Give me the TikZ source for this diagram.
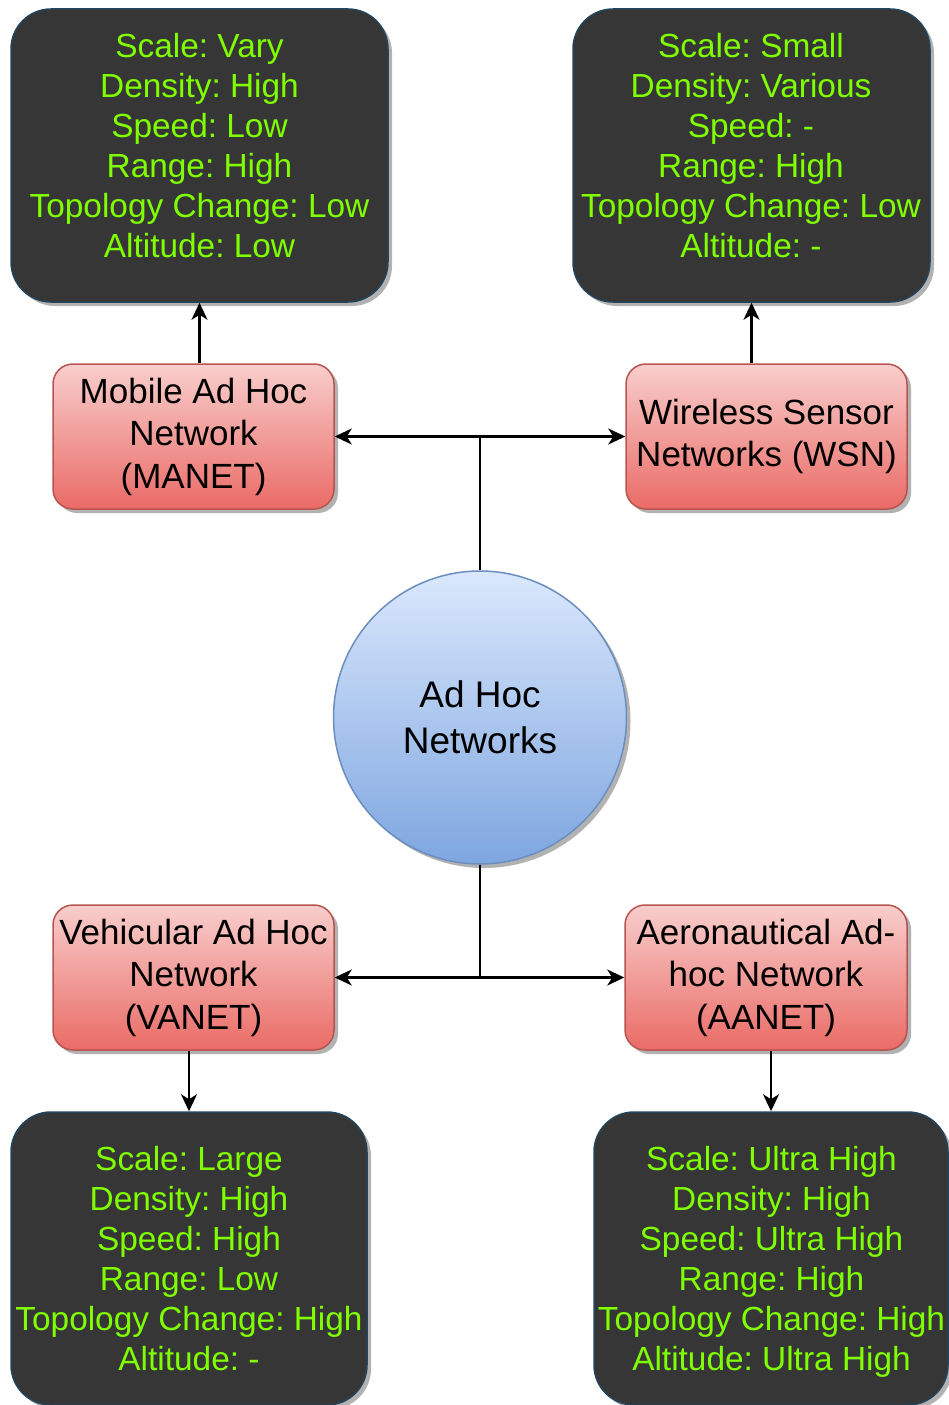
\documentclass[tikz,border=0pt]{standalone}
\usepackage{fontspec}
\setmainfont{Liberation Sans}
\usetikzlibrary{shadows,arrows.meta}
\frenchspacing

\definecolor{darkfill}{HTML}{363636}
\definecolor{darkedge}{HTML}{23445D}
\definecolor{infogreen}{HTML}{80FF00}
\definecolor{redtop}{HTML}{F8CECC}
\definecolor{redbot}{HTML}{EA6B66}
\definecolor{rededge}{HTML}{B85450}
\definecolor{bluetop}{HTML}{DAE8FC}
\definecolor{bluebot}{HTML}{7EA6E0}
\definecolor{blueedge}{HTML}{6C8EBF}

\begin{document}
\begin{tikzpicture}[x=1pt,y=-1pt,
  softshadow/.style={drop shadow={shadow xshift=4pt,shadow yshift=-4pt,fill=black,opacity=0.3}},
  darkbox/.style={rectangle,rounded corners=40pt,draw=darkedge,line width=1.5pt,
    fill=darkfill,inner sep=0pt,minimum height=293pt,softshadow},
  infotext/.style={text=infogreen,font=\fontsize{33.4}{40}\selectfont,align=center,inner sep=0pt},
  netbox/.style={rectangle,rounded corners=20pt,draw=rededge,line width=1.5pt,
    top color=redtop,bottom color=redbot,minimum width=281pt,minimum height=145pt,
    inner sep=0pt,align=center,font=\fontsize{35}{42.5}\selectfont,softshadow},
  hub/.style={circle,draw=blueedge,line width=1.5pt,top color=bluetop,bottom color=bluebot,
    minimum size=293pt,inner sep=0pt,align=center,font=\fontsize{37}{46}\selectfont,softshadow},
  link/.style={line width=2.4pt,-{Stealth[length=17pt,width=16pt,inset=5pt]}}
]
\useasboundingbox (0,0) rectangle (948,1405);

% property boxes
\node[darkbox,minimum width=377pt] (tl) at (199.5,155.5) {};
\node[darkbox,minimum width=357pt] (tr) at (751.5,155.5) {};
\node[darkbox,minimum width=356pt] (bl) at (189,1258.5) {};
\node[darkbox,minimum width=354pt] (br) at (771,1258.5) {};

\node[infotext] (tltext) at (199.5,146) {Scale: Vary\\Density: High\\Speed: Low\\Range: High\\Topology Change: Low\\Altitude: Low};
\node[infotext] (trtext) at (751,146) {Scale: Small\\Density: Various\\Speed: -\\Range: High\\Topology Change: Low\\Altitude: -};
\node[infotext] (bltext) at (189,1259) {Scale: Large\\Density: High\\Speed: High\\Range: Low\\Topology Change: High\\Altitude: -};
\node[infotext] (brtext) at (771.5,1262) {Scale: Ultra High\\Density: High\\Speed: Ultra High\\Range: High\\Topology Change: High\\Altitude: Ultra High};

% network types
\node[netbox] (manet) at (193.5,436.5) {Mobile Ad Hoc\\Network\\(MANET)};
\node[netbox] (wsn) at (766.5,436.5) {Wireless Sensor\\Networks (WSN)};
\node[netbox] (vanet) at (193.5,977.5) {Vehicular Ad Hoc\\Network\\(VANET)};
\node[netbox,minimum width=282pt] (aanet) at (766,977.5) {Aeronautical Ad-\\hoc Network\\(AANET)};

% central node
\node[hub] (hub) at (480,717.5) {Ad Hoc\\Networks};

% connectors
\draw[link] (hub.north) |- (manet.east);
\draw[link] (hub.north) |- (wsn.west);
\draw[link] (hub.south) |- (vanet.east);
\draw[link] (hub.south) |- (aanet.west);
\draw[link] (tl.south |- manet.north) -- (tl.south);
\draw[link] (tr.south |- wsn.north) -- (tr.south);
\draw[link] (bl.north |- vanet.south) -- (bl.north);
\draw[link] (br.north |- aanet.south) -- (br.north);
\end{tikzpicture}
\end{document}
